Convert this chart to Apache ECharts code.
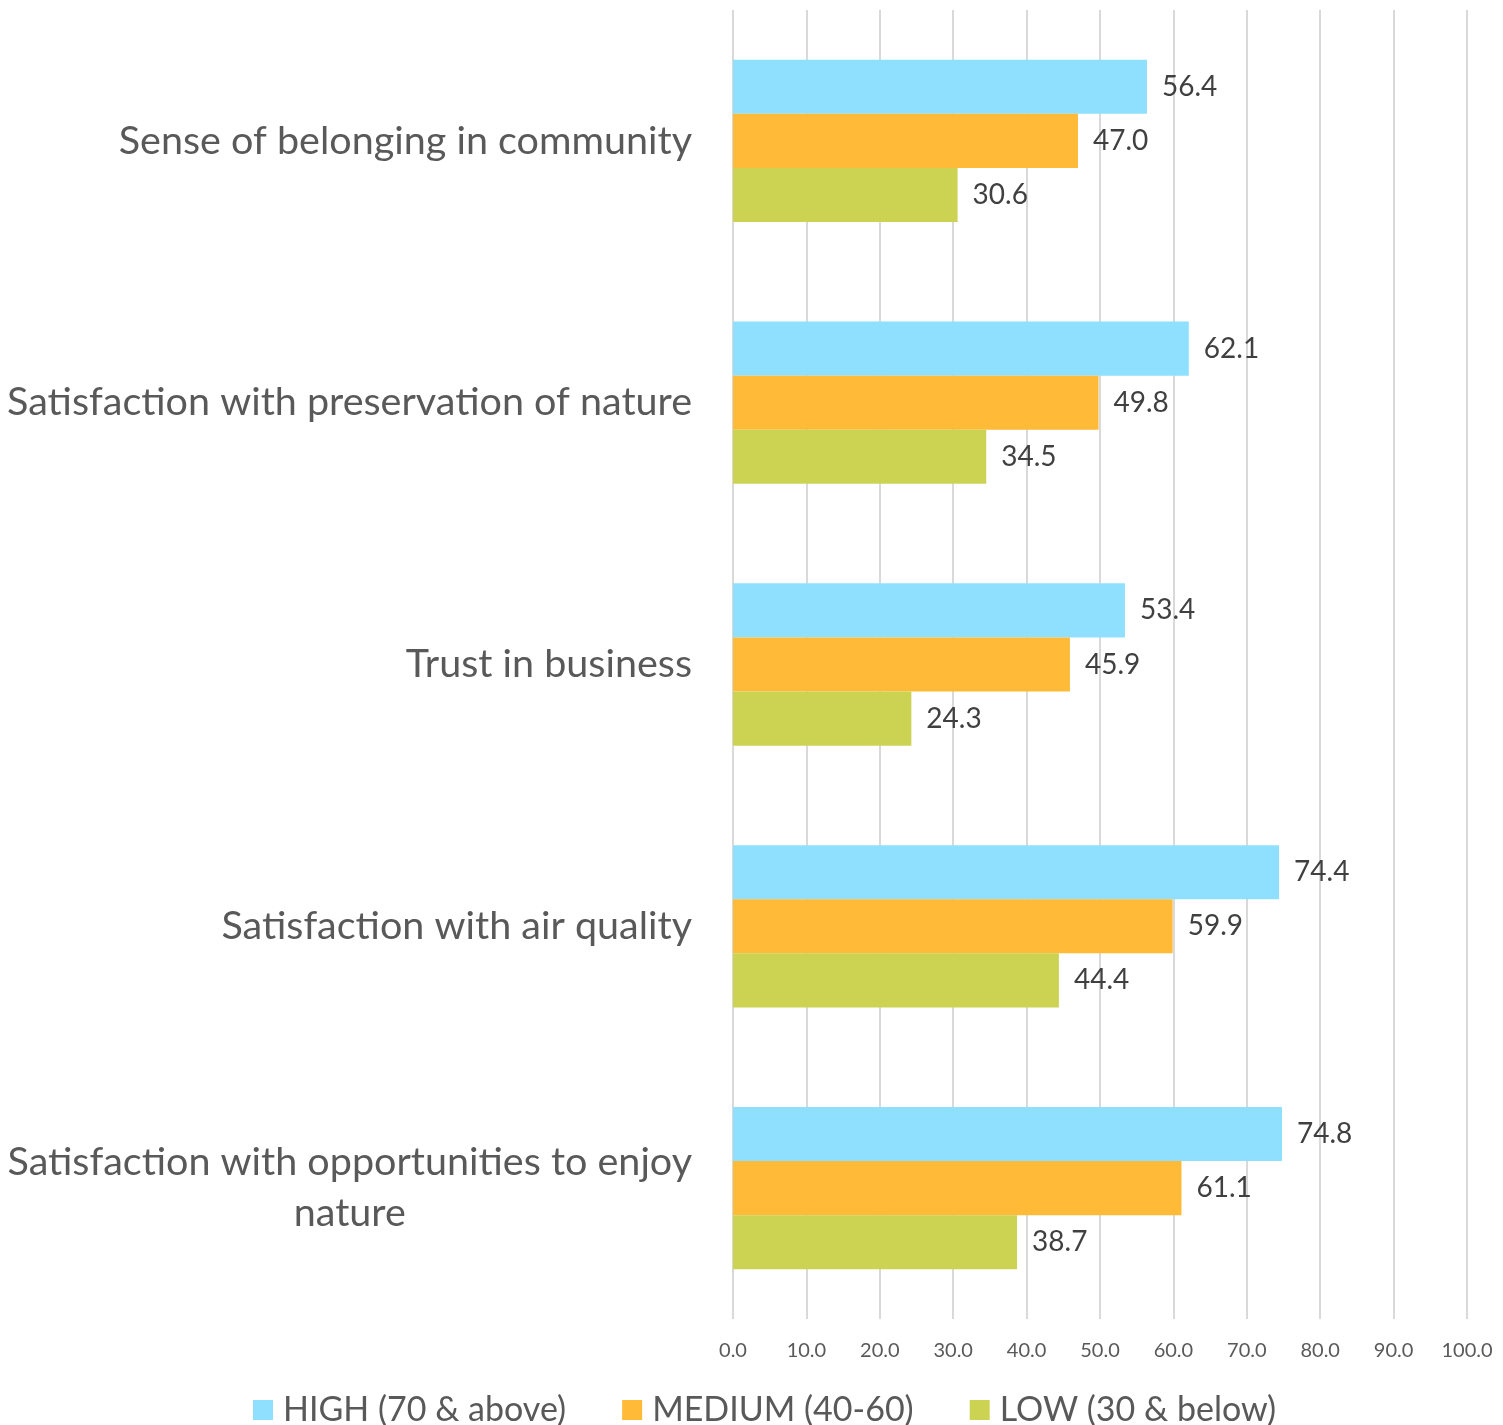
<!DOCTYPE html>
<html>
<head>
<meta charset="utf-8">
<script src="https://cdn.jsdelivr.net/npm/echarts@6/dist/echarts.min.js"></script>
<style>
    html, body { margin: 0; padding: 0; background: #fff; }
    #chart { width: 1503px; height: 1425px; }
</style>
</head>
<body>
<div id="chart"></div>
<script>
// categories top to bottom
var categories = [
    'Sense of belonging in community',
    'Satisfaction with preservation of nature',
    'Trust in business',
    'Satisfaction with air quality',
    'Satisfaction with opportunities to enjoy\nnature'
];
var seriesNames = ['HIGH (70 & above)', 'MEDIUM (40-60)', 'LOW (30 & below)'];
var highValues = [56.4, 62.1, 53.4, 74.4, 74.8];
var mediumValues = [47.0, 49.8, 45.9, 59.9, 61.1];
var lowValues = [30.6, 34.5, 24.3, 44.4, 38.7];
var colors = ['#8FE0FE', '#FFBA38', '#CCD353'];

window.onload = function () {
    var chart = echarts.init(document.getElementById('chart'));
    var font = 'Lato';

    var labelOption = {
        show: true,
        position: 'right',
        distance: 15,
        fontSize: 28,
        fontFamily: font,
        color: '#404040',
        formatter: function (p) {
            return p.value.toFixed(1);
        }
    };

    function makeSeries(name, data) {
        return {
            name: name,
            type: 'bar',
            data: data,
            barGap: '0%',
            barCategoryGap: '38%',
            label: labelOption
        };
    }

    var option = {
        color: colors,
        animation: false,
        grid: {
            left: 733,
            right: 36,
            top: 10,
            bottom: 106,
            outerBoundsMode: 'none',
            containLabel: false
        },
        legend: {
            bottom: -7,
            left: 248,
            itemWidth: 20,
            itemHeight: 20,
            itemGap: 56,
            icon: 'rect',
            textStyle: {
                fontSize: 34,
                fontFamily: font,
                color: '#595959',
                padding: [0, 0, 0, 5]
            },
            data: seriesNames
        },
        xAxis: {
            type: 'value',
            min: 0,
            max: 100,
            interval: 10,
            axisLine: { show: false },
            axisTick: { show: false },
            splitLine: { lineStyle: { color: '#d9d9d9', width: 2 } },
            axisLabel: {
                margin: 22,
                fontSize: 20,
                fontFamily: font,
                color: '#595959',
                formatter: function (v) { return v.toFixed(1); }
            }
        },
        yAxis: {
            type: 'category',
            inverse: true,
            data: categories,
            axisLine: { show: false },
            axisTick: { show: false },
            axisLabel: {
                margin: 41,
                fontSize: 39.5,
                fontFamily: font,
                color: '#595959',
                lineHeight: 51,
                formatter: function (v) {
                    if (v.indexOf('\n') < 0) return v;
                    return v.split('\n').map(function (s) { return '{c|' + s + '}'; }).join('\n');
                },
                rich: {
                    c: {
                        align: 'center',
                        fontSize: 39.5,
                        fontFamily: font,
                        color: '#595959',
                        lineHeight: 51
                    }
                }
            }
        },
        series: [
            makeSeries(seriesNames[0], highValues),
            makeSeries(seriesNames[1], mediumValues),
            makeSeries(seriesNames[2], lowValues)
        ]
    };

    chart.setOption(option);
};
</script>
</body>
</html>
